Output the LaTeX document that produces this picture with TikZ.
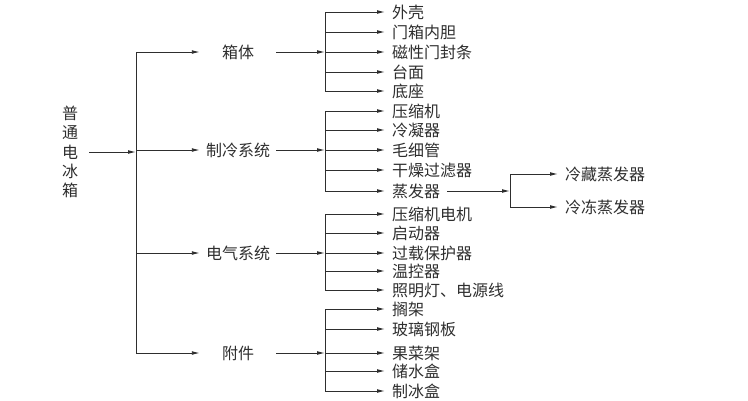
\documentclass[tikz,border=0pt]{standalone}
\usepackage{fontspec}
\newfontfamily\cjk{Noto Sans CJK SC}
\usetikzlibrary{arrows.meta}
\definecolor{ink}{HTML}{2E2E2E}
\tikzset{
    arr/.style={draw=ink, line width=0.9pt, -{Latex[length=8pt,width=3.8pt]}},
    lbl/.style={text=ink, font=\cjk\fontsize{16}{19.3}\selectfont, inner sep=0pt},
    part/.style={lbl, minimum width=76pt},
    leaf/.style={lbl, anchor=west, inner xsep=7pt},
}
\begin{document}
\begin{tikzpicture}[x=1pt,y=-1pt]
    \useasboundingbox (0,0) rectangle (748,400);

    % Root
    \node[lbl, align=center, inner xsep=11pt] (fridge) at (70,152) {普\\通\\电\\冰\\箱};
    \coordinate (b0) at (136,152);
    \draw[arr] (fridge.east) -- (b0);

    % Main parts
    \node[part] (box)  at (238,52)  {箱体};
    \node[part] (cool) at (238,150) {制冷系统};
    \node[part] (elec) at (238,253) {电气系统};
    \node[part] (acc)  at (238,353) {附件};
    \draw[arr] (b0) |- (box.west);
    \draw[arr] (b0) |- (cool.west);
    \draw[arr] (b0) |- (elec.west);
    \draw[arr] (b0) |- (acc.west);

    % Cabinet
    \coordinate (b1) at (325,52);
    \draw[arr] (box.east) -- (b1);
    \node[leaf] (shell)  at (385,12) {外壳};
    \node[leaf] (liner)  at (385,32) {门箱内胆};
    \node[leaf] (seal)   at (385,52) {磁性门封条};
    \node[leaf] (top)    at (385,72) {台面};
    \node[leaf] (base)   at (385,91) {底座};
    \draw[arr] (b1) |- (shell.west);
    \draw[arr] (b1) |- (liner.west);
    \draw[arr] (b1) |- (seal.west);
    \draw[arr] (b1) |- (top.west);
    \draw[arr] (b1) |- (base.west);

    % Refrigeration system
    \coordinate (b2) at (325,150);
    \draw[arr] (cool.east) -- (b2);
    \node[leaf] (comp)   at (385,111) {压缩机};
    \node[leaf] (cond)   at (385,130) {冷凝器};
    \node[leaf] (capil)  at (385,150) {毛细管};
    \node[leaf] (dryer)  at (385,170) {干燥过滤器};
    \node[leaf] (evap)   at (385,191) {蒸发器};
    \draw[arr] (b2) |- (comp.west);
    \draw[arr] (b2) |- (cond.west);
    \draw[arr] (b2) |- (capil.west);
    \draw[arr] (b2) |- (dryer.west);
    \draw[arr] (b2) |- (evap.west);

    % Evaporators
    \coordinate (b5) at (510,191);
    \draw[arr] (evap.east) -- (b5);
    \node[leaf] (evapc)  at (558,174) {冷藏蒸发器};
    \node[leaf] (evapf)  at (558,207) {冷冻蒸发器};
    \draw[arr] (b5) |- (evapc.west);
    \draw[arr] (b5) |- (evapf.west);

    % Electrical system
    \coordinate (b3) at (325,253);
    \draw[arr] (elec.east) -- (b3);
    \node[leaf] (motor)  at (385,214) {压缩机电机};
    \node[leaf] (start)  at (385,233) {启动器};
    \node[leaf] (ovl)    at (385,253) {过载保护器};
    \node[leaf] (therm)  at (385,271) {温控器};
    \node[leaf] (lamp)   at (385,290) {照明灯、电源线};
    \draw[arr] (b3) |- (motor.west);
    \draw[arr] (b3) |- (start.west);
    \draw[arr] (b3) |- (ovl.west);
    \draw[arr] (b3) |- (therm.west);
    \draw[arr] (b3) |- (lamp.west);

    % Accessories
    \coordinate (b4) at (325,353);
    \draw[arr] (acc.east) -- (b4);
    \node[leaf] (shelf)  at (385,309) {搁架};
    \node[leaf] (glass)  at (385,329) {玻璃钢板};
    \node[leaf] (crisp)  at (385,353) {果菜架};
    \node[leaf] (water)  at (385,371) {储水盒};
    \node[leaf] (ice)    at (385,391) {制冰盒};
    \draw[arr] (b4) |- (shelf.west);
    \draw[arr] (b4) |- (glass.west);
    \draw[arr] (b4) |- (crisp.west);
    \draw[arr] (b4) |- (water.west);
    \draw[arr] (b4) |- (ice.west);
\end{tikzpicture}
\end{document}
